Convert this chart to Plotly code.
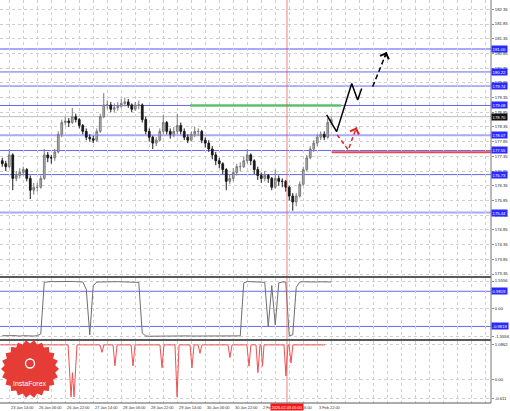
import math
import plotly.graph_objects as go

# ---------------- data ----------------
# 2-hour candles, positioned in hours from chart start
close = [177.1, 177.0, 177.4, 176.6, 176.7, 176.8, 176.9, 176.6, 176.2, 176.3,
         176.3, 176.6, 177.4, 177.3, 177.3, 177.5, 178.1, 178.5, 178.55, 178.5,
         178.7, 178.6, 178.4, 178.2, 178.0, 177.95, 177.9, 178.2, 178.7, 179.1,
         179.1, 178.95, 179.0, 179.05, 179.15, 179.2, 179.1, 178.95, 179.1, 179.1,
         178.6, 178.2, 178.0, 177.8, 177.9, 178.2, 178.5, 178.2, 178.1, 178.2,
         178.4, 178.2, 178.0, 177.9, 178.1, 178.2, 178.2, 177.9, 177.8, 177.6,
         177.4, 177.2, 177.1, 176.9, 176.5, 176.6, 176.8, 177.0, 177.0, 177.2,
         177.4, 177.2, 176.9, 176.7, 176.6, 176.7, 176.6, 176.3, 176.6, 176.5,
         176.5, 176.3, 176.0, 175.8, 176.0, 176.4, 176.9, 177.3, 177.6, 177.8,
         178.0, 178.1, 178.0, 178.5, 178.6]
high = [177.3, 177.2, 177.6, 177.45, 176.85, 176.95, 177.0, 176.95, 176.7, 176.45,
        176.45, 176.7, 177.6, 177.5, 177.4, 177.6, 178.2, 178.6, 178.7, 178.65,
        179.0, 178.8, 178.65, 178.45, 178.3, 178.1, 178.05, 178.3, 178.8, 179.5,
        179.25, 179.2, 179.15, 179.2, 179.3, 179.35, 179.3, 179.15, 179.2, 179.25,
        179.15, 178.7, 178.3, 178.05, 178.0, 178.3, 178.75, 178.55, 178.3, 178.35,
        178.8, 178.5, 178.3, 178.1, 178.2, 178.35, 178.3, 178.25, 178.0, 177.9,
        177.7, 177.5, 177.3, 177.15, 176.95, 176.75, 176.95, 177.1, 177.15, 177.35,
        177.6, 177.45, 177.25, 177.0, 176.8, 176.85, 176.75, 176.65, 176.9, 176.7,
        176.6, 176.55, 176.35, 176.1, 176.1, 176.5, 177.0, 177.4, 177.7, 177.9,
        178.1, 178.2, 178.2, 178.65, 178.7]
low = [177.0, 176.85, 176.95, 176.2, 176.5, 176.6, 176.7, 176.5, 175.9, 176.05,
       176.15, 176.25, 176.55, 177.15, 177.1, 177.2, 177.45, 178.0, 178.4, 178.35,
       178.45, 178.5, 178.3, 178.1, 177.9, 177.85, 177.8, 177.85, 178.15, 178.65,
       178.95, 178.85, 178.85, 178.9, 179.0, 179.05, 179.0, 178.85, 178.9, 178.95,
       178.5, 178.1, 177.85, 177.6, 177.7, 177.85, 178.1, 178.1, 177.95, 178.0,
       178.1, 178.1, 177.9, 177.8, 177.85, 178.0, 178.05, 177.8, 177.65, 177.5,
       177.25, 177.05, 176.95, 176.75, 176.2, 176.4, 176.5, 176.7, 176.85, 176.95,
       177.1, 177.05, 176.75, 176.55, 176.45, 176.5, 176.45, 176.2, 176.25, 176.35,
       176.3, 176.15, 175.85, 175.5, 175.65, 175.95, 176.35, 176.85, 177.25, 177.5,
       177.7, 177.9, 177.9, 177.95, 178.4]
first_open = 177.2
bar_hours = list(range(1, 2 * len(close), 2))

# oscillator (upper sub-window)
osc = [-1.50, -1.52, -1.50, -1.49, -1.51, -1.52, -1.50, -1.51, -1.53, -1.52, -1.50,
       -1.40, 1.48,
       1.52, 1.53, 1.52, 1.53, 1.53, 1.52, 1.53, 1.53, 1.52, 1.51, 1.50,
       1.10, -1.45, 1.30, 1.50,
       1.50, 1.51, 1.49, 1.51, 1.50, 1.52, 1.51, 1.50, 1.52, 1.51, 1.50, 1.48,
       -1.35,
       -1.52, -1.53, -1.52, -1.51, -1.52, -1.53, -1.52, -1.52, -1.51, -1.52,
       -1.53, -1.52, -1.51, -1.52, -1.52, -1.53, -1.52, -1.51, -1.52, -1.52,
       -1.53, -1.52, -1.51, -1.52, -1.52, -1.53, -1.52, -1.51,
       1.45, 1.52, 1.52, 1.52, 1.52, 1.52,
       1.48, -1.00, 1.30, -0.90, 1.45,
       1.50, 1.50,
       -1.50, -1.45, 1.20,
       1.50, 1.51, 1.50, 1.52, 1.51, 1.50, 1.51, 1.52, 1.51, 1.50]

# lower sub-window indicator
ind_hours = [0, 11.1, 13.4, 15.7, 17.4, 18.6, 19.7, 20.8, 21.7, 22.6, 38.6, 40.3, 41.1,
             42.0, 43.7, 56.8, 58.0, 59.1, 64.3, 65.4, 66.6, 74.6, 75.7, 76.9, 91.1,
             92.3, 93.4, 99.7, 100.9, 102.0, 108.3, 109.4, 110.6, 112.9, 114.0, 115.1,
             130.0, 131.1, 132.3, 140.8, 142.0, 143.1, 146.0, 147.1, 148.3, 148.9,
             149.7, 150.6, 162.0, 163.1, 164.3, 164.9, 166.0, 167.1, 185.4]
ind_vals = [1.06, 1.06, 0.95, 1.0, 1.05, 0.64, 1.05, 1.02, 0.73, 1.06, 1.06, -0.55, 0.2,
            -0.55, 1.06, 1.06, 0.83, 1.06, 1.06, 0.41, 1.06, 1.06, 0.41, 1.06, 1.06,
            0.35, 1.06, 1.06, -0.55, 1.06, 1.06, 0.35, 1.06, 1.06, 0.8, 1.06,
            1.06, 0.67, 1.06, 1.06, 0.4, 1.06, 1.06, 0.2, 1.06, 1.06,
            0.4, 1.06, 1.06, 0.1, 1.06, 1.06, 0.5, 1.06, 1.06]

levels_thin = [180.22, 179.74, 179.08, 177.55, 176.73]
levels_thick = [181.00, 178.07, 175.44]
level_labels = ["181.00", "180.22", "179.74", "179.08", "178.07", "177.55", "176.73", "175.44"]
level_label_vals = [181.00, 180.22, 179.74, 179.08, 178.07, 177.55, 176.73, 175.44]
bid_price = 178.70
green_level, green_from, green_to = 179.08, 108.3, 194.6
red_level, red_from = 177.49, 189.4

black_path_h = [186.4, 192.1, 200.7, 204.1, 206.4]
black_path_p = [178.76, 178.19, 179.83, 179.27, 179.66]
black_dash_h = [212.7, 220.7]
black_dash_p = [179.72, 180.90]
red_dash_h = [192.4, 198.7, 203.5]
red_dash_p = [178.08, 177.57, 178.34]

price_ticks = [173.35, 173.85, 174.35, 174.85, 175.35, 175.85, 176.35, 176.85, 177.35,
               177.85, 178.35, 178.85, 179.35, 179.85, 180.35, 180.85, 181.35, 181.85, 182.35]
osc_ticks = [1.5556, 0.0, -1.5556]
osc_tick_text = ["1.5556", "0.00", "-1.5556"]
osc_levels = [0.9819, -0.9819]
ind_ticks = [1.0862, 0.0, -0.611]
ind_tick_text = ["1.0862", "0.00", "-0.611"]

x_tick_hours = [-11, 5, 21, 37, 53, 69, 85, 101, 117, 133, 149, 165, 181]
x_tick_text = ["22 Jan 22:00", "23 Jan 14:00", "26 Jan 06:00", "26 Jan 22:00", "27 Jan 14:00",
               "28 Jan 06:00", "28 Jan 22:00", "29 Jan 14:00", "30 Jan 06:00", "30 Jan 22:00",
               "2 Feb 14:00", "3 Feb 06:00", "3 Feb 22:00"]
cursor_hour = 163.7
cursor_text = "2026.02.03 05:00"

# ---------------- figure ----------------
W, H = 510, 411
ML, MR, MT, MB = 0, 19, 0, 8
PW, PH = W - ML - MR, H - MT - MB
FONT = "Liberation Sans"
XR = [-0.3, 280.3]
grid = dict(showgrid=True, gridcolor="#cfcfcf", griddash="dot", gridwidth=1)


def ydom(top_px, bot_px):
    return [1 - bot_px / PH, 1 - top_px / PH]


opens = [first_open] + close[:-1]
fig = go.Figure()
fig.add_trace(go.Candlestick(
    x=bar_hours, open=opens, high=high, low=low, close=close,
    increasing=dict(line=dict(color="#7a7a7a", width=1), fillcolor="#b5b5b5"),
    decreasing=dict(line=dict(color="#1a1a1a", width=1), fillcolor="#1a1a1a"),
    whiskerwidth=0, xaxis="x", yaxis="y", showlegend=False, hoverinfo="skip"))

fig.add_trace(go.Scatter(x=[green_from, green_to], y=[green_level, green_level], mode="lines",
                         line=dict(color="#5cc06e", width=2.5), xaxis="x", yaxis="y",
                         showlegend=False, hoverinfo="skip"))
fig.add_trace(go.Scatter(x=[red_from, XR[1]], y=[red_level, red_level], mode="lines",
                         line=dict(color="#e84a4a", width=2.2), xaxis="x", yaxis="y",
                         showlegend=False, hoverinfo="skip"))
fig.add_trace(go.Scatter(x=black_path_h, y=black_path_p, mode="lines",
                         line=dict(color="#000000", width=1.5), xaxis="x", yaxis="y",
                         showlegend=False, hoverinfo="skip"))
fig.add_trace(go.Scatter(x=black_dash_h, y=black_dash_p, mode="lines",
                         line=dict(color="#000000", width=1.5, dash="5px,3px"), xaxis="x", yaxis="y",
                         showlegend=False, hoverinfo="skip"))
fig.add_trace(go.Scatter(x=red_dash_h, y=red_dash_p, mode="lines",
                         line=dict(color="#e02424", width=1.5, dash="4px,3px"), xaxis="x", yaxis="y",
                         showlegend=False, hoverinfo="skip"))

fig.add_trace(go.Scatter(x=bar_hours, y=osc, mode="lines", line=dict(color="#6e6e6e", width=1),
                         xaxis="x2", yaxis="y2", showlegend=False, hoverinfo="skip"))
fig.add_trace(go.Scatter(x=ind_hours, y=ind_vals, mode="lines", line=dict(color="#f05050", width=1),
                         xaxis="x3", yaxis="y3", showlegend=False, hoverinfo="skip"))

shapes = []
for v in levels_thin:
    shapes.append(dict(type="line", xref="paper", x0=0, x1=1, yref="y", y0=v, y1=v,
                       line=dict(color="#6767ec", width=1), layer="below"))
for v in levels_thick:
    shapes.append(dict(type="line", xref="paper", x0=0, x1=1, yref="y", y0=v, y1=v,
                       line=dict(color="#a9a9f6", width=2), layer="below"))
shapes.append(dict(type="line", xref="paper", x0=0, x1=1, yref="y", y0=bid_price, y1=bid_price,
                   line=dict(color="#bdbdbd", width=1), layer="below"))
for v in osc_levels:
    shapes.append(dict(type="line", xref="paper", x0=0, x1=1, yref="y2", y0=v, y1=v,
                       line=dict(color="#6767ec", width=1), layer="below"))
# cursor vertical line
shapes.append(dict(type="line", xref="x", x0=cursor_hour, x1=cursor_hour, yref="paper", y0=0, y1=1,
                   line=dict(color="rgba(225,90,90,0.75)", width=1)))
# panel separators / frame
for ypx, w in [(277, 2), (340, 2), (PH, 1)]:
    yp = 1 - ypx / PH
    shapes.append(dict(type="line", xref="paper", x0=0, x1=1, yref="paper", y0=yp, y1=yp,
                       line=dict(color="#5a5a5a", width=w)))
shapes.append(dict(type="line", xref="paper", x0=1, x1=1, yref="paper", y0=0, y1=1,
                   line=dict(color="#777777", width=1)))

# InstaForex starburst logo
cx, cy, R, r, n = 30, 369, 29, 25.5, 22
pts = []
for k in range(2 * n):
    ang = math.pi * k / n
    rad = R if k % 2 == 0 else r
    pts.append(((cx + rad * math.cos(ang)) / PW, 1 - (cy + rad * math.sin(ang)) / PH))
path = "M" + "L".join(f"{a:.4f},{b:.4f}" for a, b in pts) + "Z"
shapes.append(dict(type="path", xref="paper", yref="paper", path=path,
                   fillcolor="#e53c36", line=dict(color="#e53c36", width=0), layer="above"))
shapes.append(dict(type="circle", xref="paper", yref="paper",
                   x0=(cx - 4.5) / PW, x1=(cx + 4.5) / PW, y0=1 - (cy - 1) / PH, y1=1 - (cy - 10) / PH,
                   line=dict(color="white", width=1.3), layer="above"))

ann = []
for txt, v in zip(level_labels, level_label_vals):
    ann.append(dict(xref="paper", x=1.0, xanchor="left", yref="y", y=v, yanchor="middle",
                    text=txt, showarrow=False, bgcolor="#2a2aff", borderpad=0.6,
                    font=dict(family=FONT, size=4.2, color="white")))
ann.append(dict(xref="paper", x=1.0, xanchor="left", yref="y", y=bid_price, yanchor="middle",
                text=f"{bid_price:.2f}", showarrow=False, bgcolor="#111111", borderpad=0.6,
                font=dict(family=FONT, size=4.2, color="white")))
for v in osc_levels:
    ann.append(dict(xref="paper", x=1.0, xanchor="left", yref="y2", y=v, yanchor="middle",
                    text=f"{v:.4f}", showarrow=False, bgcolor="#2a2aff", borderpad=0.6,
                    font=dict(family=FONT, size=4.2, color="white")))
for h, t in zip(x_tick_hours, x_tick_text):
    ann.append(dict(xref="x", x=h, xanchor="left", yref="paper", y=-0.001, yanchor="top",
                    text=t, showarrow=False, font=dict(family=FONT, size=3.9, color="#333333")))
ann.append(dict(xref="x", x=cursor_hour, xanchor="center", yref="paper", y=-0.001, yanchor="top",
                text=cursor_text, showarrow=False, bgcolor="#f01818", borderpad=0.5,
                font=dict(family=FONT, size=3.9, color="white")))
ann.append(dict(xref="paper", x=cx / PW, xanchor="center", yref="paper", y=1 - 383 / PH,
                yanchor="middle", text="InstaForex", showarrow=False,
                font=dict(family=FONT, size=7, color="white")))


def arrow_head(hs, ps, color):
    tip_h, tip_p = hs[-1], ps[-1]
    tail_h = tip_h - 0.2 * (hs[-1] - hs[-2])
    tail_p = tip_p - 0.2 * (ps[-1] - ps[-2])
    return dict(x=tip_h, y=tip_p, ax=tail_h, ay=tail_p, xref="x", yref="y", axref="x", ayref="y",
                showarrow=True, arrowhead=4, arrowsize=1.3, arrowwidth=1.4, arrowcolor=color,
                text="", standoff=0)


ann.append(arrow_head(black_dash_h, black_dash_p, "#000000"))
ann.append(arrow_head(red_dash_h, red_dash_p, "#e02424"))

axis_common = dict(range=XR, dtick=8, tick0=5, showticklabels=False, zeroline=False,
                   ticks="", showline=False, **grid)
yfont = dict(family=FONT, size=4.2, color="#222222")

fig.update_layout(
    width=W, height=H, margin=dict(l=ML, r=MR, t=MT, b=MB),
    paper_bgcolor="white", plot_bgcolor="white", showlegend=False,
    shapes=shapes, annotations=ann,
    xaxis=dict(anchor="y", rangeslider=dict(visible=False), **axis_common),
    xaxis2=dict(anchor="y2", matches="x", **axis_common),
    xaxis3=dict(anchor="y3", matches="x", **axis_common),
    yaxis=dict(domain=ydom(0, 276.5), range=[173.265, 182.666], side="right",
               tickvals=price_ticks, ticktext=[f"{v:.2f}" for v in price_ticks],
               tickfont=yfont, ticks="outside", ticklen=2, tickcolor="#888", zeroline=False, **grid),
    yaxis2=dict(domain=ydom(278, 339), range=[-1.684, 1.723], side="right",
                tickvals=osc_ticks, ticktext=osc_tick_text,
                tickfont=yfont, ticks="outside", ticklen=2, tickcolor="#888", zeroline=False, **grid),
    yaxis3=dict(domain=ydom(341, PH), range=[-0.74, 1.18], side="right",
                tickvals=ind_ticks, ticktext=ind_tick_text,
                tickfont=yfont, ticks="outside", ticklen=2, tickcolor="#888", zeroline=False, **grid),
)

fig.write_html("out.html", config={"displayModeBar": False},
               post_script="document.body.style.margin='0';document.body.style.overflow='hidden';")
